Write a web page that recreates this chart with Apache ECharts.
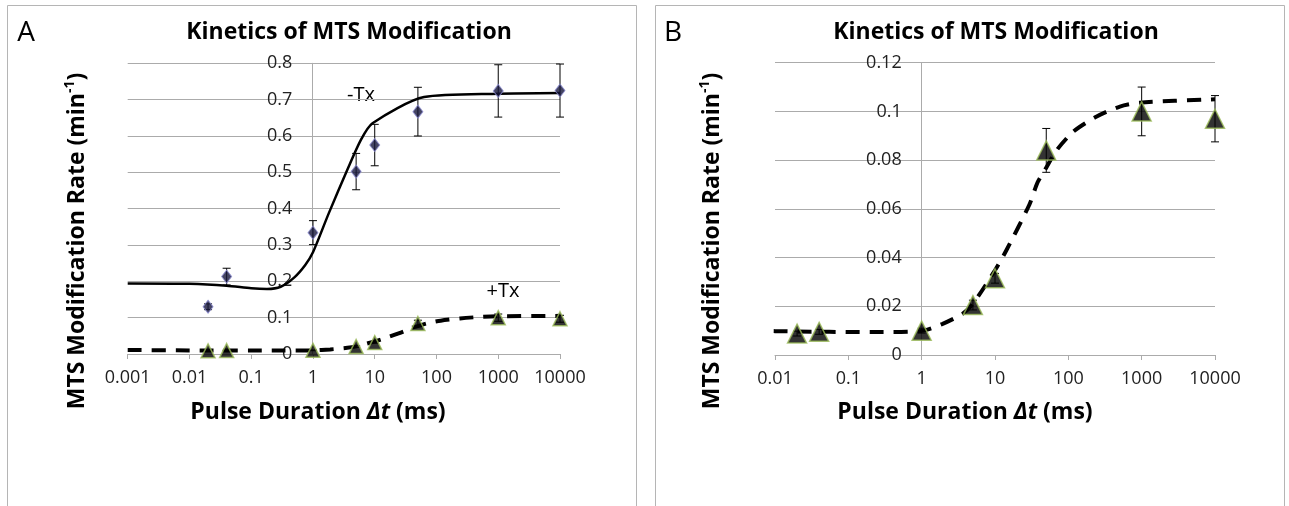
<!DOCTYPE html>
<html>
<head>
<meta charset="UTF-8">
<title>Kinetics of MTS Modification</title>
<script src="https://cdn.jsdelivr.net/npm/echarts@6/dist/echarts.min.js"></script>
<style>
    * { margin: 0; padding: 0; box-sizing: border-box; }
    body { background: #fff; }
    #chart { width: 1289px; height: 506px; }
</style>
</head>
<body>
<div id="chart"></div>
<script>
// measured points (pulse duration in ms)
const pulseMs = [0.02, 0.04, 1, 5, 10, 50, 1000, 10000];
const minusTx = [0.13, 0.213, 0.334, 0.502, 0.575, 0.667, 0.724, 0.725];
const minusTxErr = [0.008, 0.023, 0.033, 0.05, 0.057, 0.067, 0.072, 0.073];
const plusTx = [0.0088, 0.0095, 0.0100, 0.0205, 0.0315, 0.084, 0.100, 0.097];
const plusTxErr = [0.001, 0.001, 0.001, 0.002, 0.002, 0.009, 0.010, 0.0095];

// fitted curves
const fitMinusX = [0.001, 0.01, 0.04, 0.1, 0.18, 0.3, 0.5, 0.75, 1, 1.8, 3.6, 6, 9.2, 63, 1000, 10000];
const fitMinusY = [0.194, 0.193, 0.188, 0.181, 0.179, 0.185, 0.211, 0.245, 0.28, 0.387, 0.507, 0.59, 0.635, 0.707, 0.716, 0.718];
const fitPlusX = [0.001, 0.01, 0.3, 1, 1.9, 3.6, 5, 10, 14.3, 29.5, 38, 48, 69, 117, 240, 505, 950, 10000];
const fitPlusY = [0.011, 0.0098, 0.0094, 0.0099, 0.0127, 0.0169, 0.021, 0.0348, 0.043, 0.0618, 0.0708, 0.076, 0.084, 0.0917, 0.0978, 0.102, 0.1036, 0.105];

// tick labels
const xTicksA = ['0.001', '0.01', '0.1', '1', '10', '100', '1000', '10000'];
const xTicksB = ['0.01', '0.1', '1', '10', '100', '1000', '10000'];
const yTicksA = ['0', '0.1', '0.2', '0.3', '0.4', '0.5', '0.6', '0.7', '0.8'];
const yTicksB = ['0', '0.02', '0.04', '0.06', '0.08', '0.1', '0.12'];

const FONT = '"Open Sans", sans-serif';
const GRID_COLOR = '#ababab';

const chart = echarts.init(document.getElementById('chart'));

function zip(xs, ys, es) {
    return xs.map((x, i) => es ? [x, ys[i], es[i]] : [x, ys[i]]);
}

function errorBars(xi, yi, data) {
    return {
        type: 'custom',
        xAxisIndex: xi,
        yAxisIndex: yi,
        z: 2,
        encode: { x: 0, y: 1 },
        data: data,
        renderItem: function (params, api) {
            const x = api.value(0), y = api.value(1), e = api.value(2);
            const top = api.coord([x, y + e]);
            const bot = api.coord([x, y - e]);
            const w = 4;
            const st = { stroke: '#000', lineWidth: 1 };
            return {
                type: 'group',
                children: [
                    { type: 'line', shape: { x1: top[0], y1: top[1], x2: bot[0], y2: bot[1] }, style: st },
                    { type: 'line', shape: { x1: top[0] - w, y1: top[1], x2: top[0] + w, y2: top[1] }, style: st },
                    { type: 'line', shape: { x1: bot[0] - w, y1: bot[1], x2: bot[0] + w, y2: bot[1] }, style: st }
                ]
            };
        }
    };
}

function xAxis(gi, min, max, ticks, firstExp) {
    return {
        type: 'log', logBase: 10, gridIndex: gi, min: min, max: max,
        splitNumber: ticks.length - 1,
        axisLine: { lineStyle: { color: GRID_COLOR, width: 1 } },
        axisTick: { show: true, length: 5, lineStyle: { color: GRID_COLOR } },
        splitLine: { show: false },
        axisLabel: {
            color: '#222', fontSize: 18, fontFamily: FONT, margin: 15,
            formatter: v => ticks[Math.round(Math.log10(v)) - firstExp]
        }
    };
}

function yAxis(gi, max, interval, ticks, offset) {
    return {
        type: 'value', gridIndex: gi, min: 0, max: max, interval: interval,
        position: 'left', offset: offset,
        axisLine: { show: true, lineStyle: { color: GRID_COLOR, width: 1 } },
        axisTick: { show: false },
        splitLine: { lineStyle: { color: GRID_COLOR, width: 1 } },
        axisLabel: {
            color: '#222', fontSize: 18, fontFamily: FONT, margin: 20,
            formatter: (v, i) => ticks[i]
        }
    };
}

const diamond = {
    symbol: 'diamond', symbolSize: [10, 13],
    itemStyle: { color: '#15153a', borderColor: '#8a8ad0', borderWidth: 1 }
};

function triangles(size) {
    return {
        symbol: 'triangle', symbolSize: size,
        itemStyle: { color: '#000', borderColor: '#9bbb59', borderWidth: 1.5 }
    };
}

const titleStyle = { fontSize: 23, fontWeight: 'bold', fontFamily: FONT, fill: '#000', align: 'center', verticalAlign: 'middle' };
const nameStyle = { fontSize: 23, fontWeight: 'bold', fontFamily: FONT, fill: '#000', align: 'center', verticalAlign: 'middle' };
const yNameRich = {
    sup: { fontSize: 14, fontWeight: 'bold', fontFamily: FONT, fill: '#000', verticalAlign: 'top', lineHeight: 28 }
};
const xNameRich = {
    it: { fontSize: 23, fontWeight: 'bold', fontStyle: 'italic', fontFamily: FONT, fill: '#000' }
};

function panelGraphics(px, letter, tx, letterX, yNameX, xNameX) {
    return [
        { type: 'rect', shape: { x: px, y: 5.5, width: 629, height: 540 }, style: { fill: 'none', stroke: '#b5b5b5', lineWidth: 1 }, silent: true },
        { type: 'text', x: letterX, y: 33, style: { text: letter, fontSize: 28, fontFamily: FONT, fill: '#000', align: 'center', verticalAlign: 'middle' } },
        { type: 'text', x: tx, y: 32, style: Object.assign({ text: 'Kinetics of MTS Modification' }, titleStyle) },
        { type: 'text', x: yNameX, y: 241, rotation: Math.PI / 2,
          style: Object.assign({ text: 'MTS Modification Rate (min{sup|-1})', rich: yNameRich }, nameStyle) },
        { type: 'text', x: xNameX, y: 412,
          style: Object.assign({ text: 'Pulse Duration {it|Δt} (ms)', rich: xNameRich }, nameStyle) }
    ];
}

const option = {
    animation: false,
    grid: [
        { left: 127.7, top: 63.3, width: 432.3, height: 290.7 },
        { left: 775, top: 62.7, width: 440, height: 292.3 }
    ],
    xAxis: [
        xAxis(0, 0.001, 10000, xTicksA, -3),
        xAxis(1, 0.01, 10000, xTicksB, -2)
    ],
    yAxis: [
        yAxis(0, 0.8, 0.1, yTicksA, -184.6),
        yAxis(1, 0.12, 0.02, yTicksB, -146.7)
    ],
    graphic: [
        ...panelGraphics(7.5, 'A', 349, 26, 77, 318),
        ...panelGraphics(655.5, 'B', 996, 673, 712, 965),
        { type: 'text', x: 361, y: 95, style: { text: '-Tx', fontSize: 20, fontFamily: FONT, fill: '#000', align: 'center', verticalAlign: 'middle' } },
        { type: 'text', x: 503, y: 291, style: { text: '+Tx', fontSize: 20, fontFamily: FONT, fill: '#000', align: 'center', verticalAlign: 'middle' } }
    ],
    series: [
        // panel A
        {
            type: 'line', xAxisIndex: 0, yAxisIndex: 0, z: 3,
            data: zip(fitMinusX, fitMinusY), showSymbol: false, smooth: 0.25,
            lineStyle: { color: '#000', width: 2.5 }
        },
        {
            type: 'line', xAxisIndex: 0, yAxisIndex: 0, z: 3,
            data: zip(fitPlusX, fitPlusY), showSymbol: false, smooth: 0.25,
            lineStyle: { color: '#000', width: 4, type: [14, 10], cap: 'butt' }
        },
        errorBars(0, 0, zip(pulseMs, minusTx, minusTxErr)),
        errorBars(0, 0, zip(pulseMs, plusTx, plusTxErr)),
        Object.assign({ type: 'scatter', xAxisIndex: 0, yAxisIndex: 0, z: 5, data: zip(pulseMs, minusTx) }, diamond),
        Object.assign({ type: 'scatter', xAxisIndex: 0, yAxisIndex: 0, z: 5, data: zip(pulseMs, plusTx) }, triangles(14)),
        // panel B
        {
            type: 'line', xAxisIndex: 1, yAxisIndex: 1, z: 3,
            data: zip(fitPlusX, fitPlusY), showSymbol: false, smooth: 0.25,
            lineStyle: { color: '#000', width: 4, type: [14, 10], cap: 'butt' }
        },
        errorBars(1, 1, zip(pulseMs, plusTx, plusTxErr)),
        Object.assign({ type: 'scatter', xAxisIndex: 1, yAxisIndex: 1, z: 5, data: zip(pulseMs, plusTx) }, triangles(19))
    ]
};

chart.setOption(option);
</script>
</body>
</html>
